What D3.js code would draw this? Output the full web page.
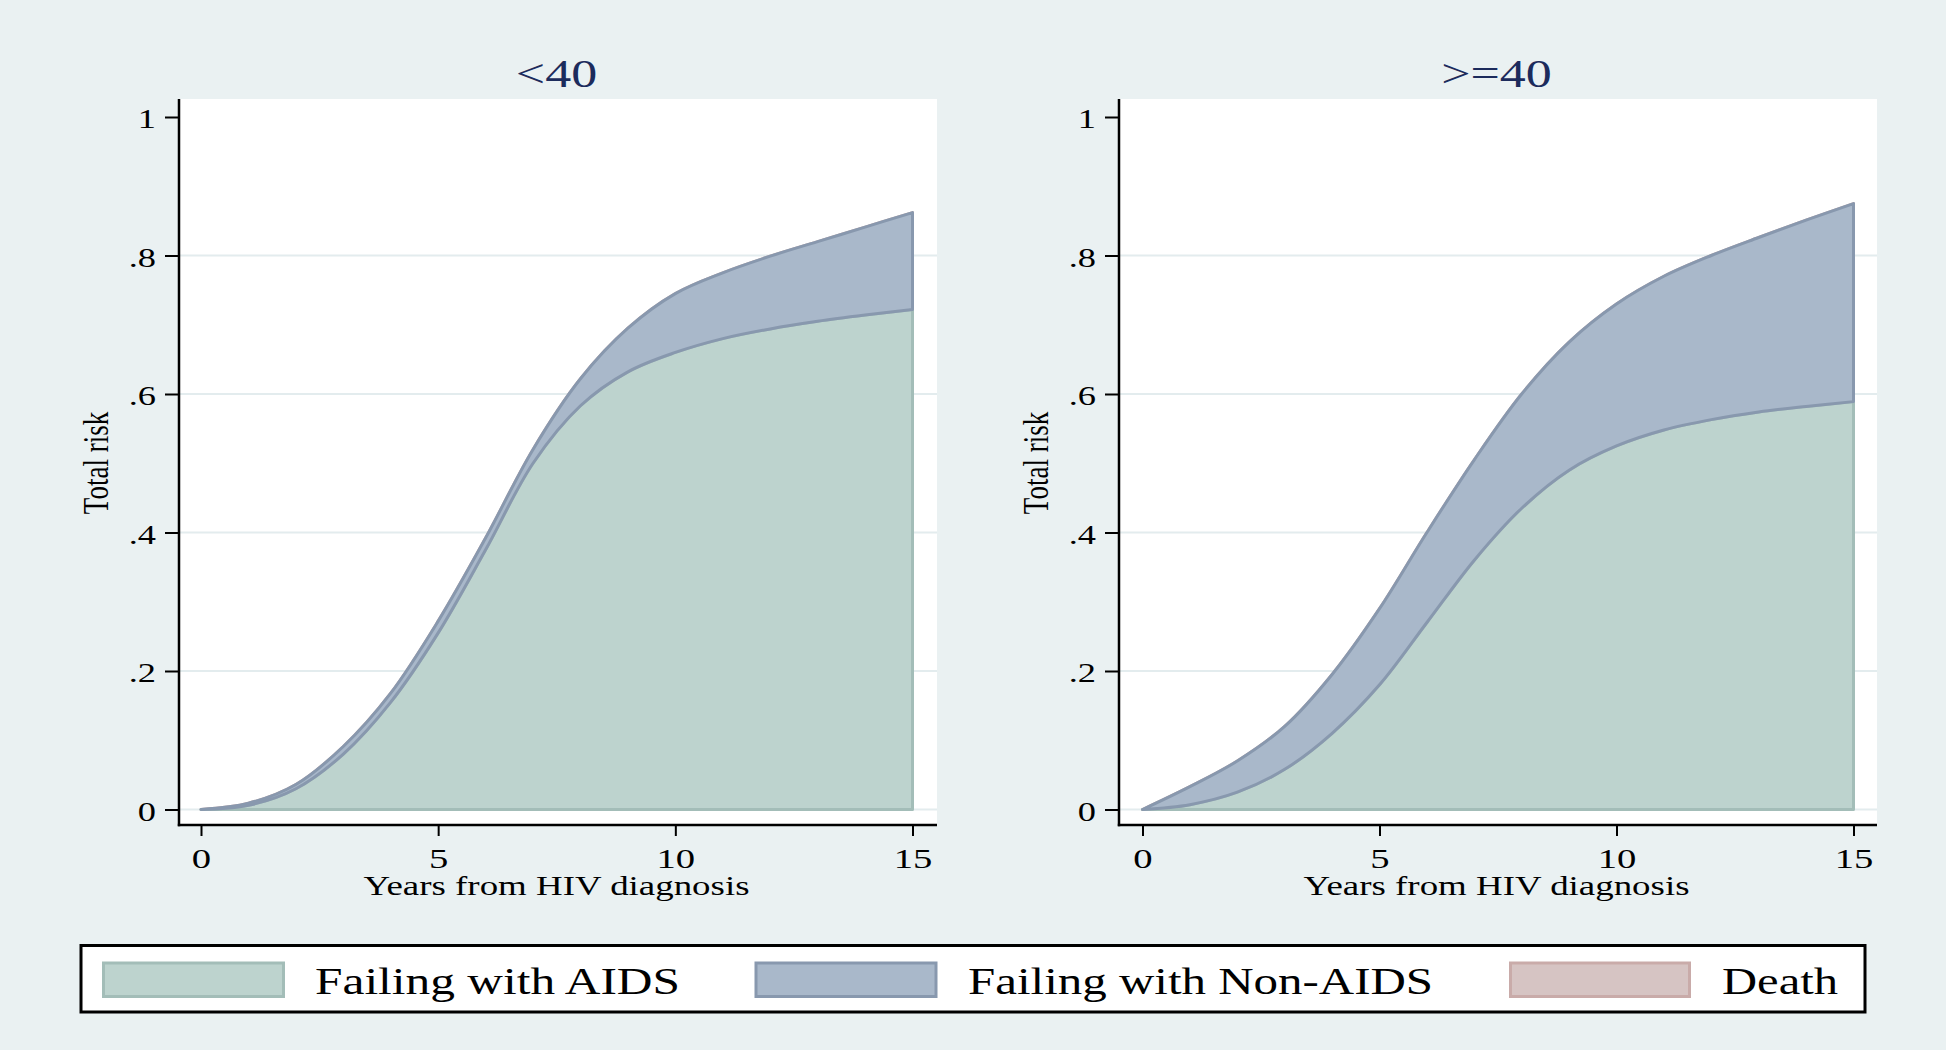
<!DOCTYPE html>
<html><head><meta charset="utf-8">
<script src="https://cdn.jsdelivr.net/npm/d3@7"></script>
<style>html,body{margin:0;padding:0;background:#eaf1f2;} svg{display:block;}</style>
</head><body><svg id="c" width="1946" height="1050"></svg>
<script>
// ---- data ----
const years = [0,1,2,3,4,5,6,7,8,9,10,11,12,13,14,15];
const panelTitles = ["<40", ">=40"];
// component risks (stacked): AIDS, Non-AIDS, Death
const aidsLt40    = [0,.006,.030,.080,.155,.255,.375,.500,.583,.632,.660,.680,.694,.705,.714,.722];
const nonAidsLt40 = [0,.003,.006,.011,.013,.017,.017,.020,.039,.063,.085,.095,.105,.115,.127,.140];
const deathLt40   = [0,0,0,0,0,0,0,0,0,0,0,0,0,0,0,0];
const aidsGe40    = [0,.007,.025,.058,.110,.180,.270,.360,.435,.490,.525,.548,.563,.574,.582,.589];
const nonAidsGe40 = [0,.026,.045,.062,.085,.110,.130,.145,.165,.185,.205,.222,.237,.252,.269,.286];
const deathGe40   = [0,0,0,0,0,0,0,0,0,0,0,0,0,0,0,0];
const seriesNames = ["Failing with AIDS","Failing with Non-AIDS","Death"];
const yTicks = [0,.2,.4,.6,.8,1];
const yTickLabels = ["0",".2",".4",".6",".8","1"];
const xTicks = [0,5,10,15];
const xTitle = "Years from HIV diagnosis";
const yTitle = "Total risk";

// ---- styles ----
const fills   = ["#bdd3ce","#a9b8ca","#d6c4c3"];
const strokes = ["#a3bdb8","#8898ae","#c9aba9"];
const SX = 1.3; // horizontal glyph stretch
const FONT = "Liberation Serif, Times New Roman, serif";

const svg = d3.select("#c");
svg.append("rect").attr("width",1946).attr("height",1050).attr("fill","#eaf1f2");

const layouts = [
  {left:179, right:937, x0:201, x15:912.5},
  {left:1119, right:1877, x0:1142.5, x15:1853.5}
];
const TOP = 99, BOTTOM = 825, Y0 = 809.5, Y1 = 117;

function drawPanel(i, title, aids, non, death){
  const L = layouts[i];
  const x = d3.scaleLinear().domain([0,15]).range([L.x0, L.x15]);
  const y = d3.scaleLinear().domain([0,1]).range([Y0, Y1]);
  const g = svg.append("g");
  g.append("rect").attr("x",L.left).attr("y",TOP).attr("width",L.right-L.left)
    .attr("height",BOTTOM-TOP).attr("fill","#fff");
  g.selectAll("line.grid").data(yTicks.filter(d=>d<1)).join("line").attr("class","grid")
    .attr("x1",L.left).attr("x2",L.right).attr("y1",d=>y(d)).attr("y2",d=>y(d))
    .attr("stroke","#e3ecee").attr("stroke-width",2);

  const rows = years.map((t,k)=>({t, aids:aids[k], non:non[k], death:death[k]}));
  const stack = d3.stack().keys(["aids","non","death"])(rows);
  const area = d3.area().x(d=>x(d.data.t)).y0(d=>y(d[0])).y1(d=>y(d[1]))
    .curve(d3.curveCatmullRom.alpha(0.5));
  [2,0,1].forEach(s=>{
    g.append("path").datum(stack[s]).attr("d",area)
      .attr("fill",fills[s]).attr("stroke",strokes[s]).attr("stroke-width",3)
      .attr("stroke-linejoin","round");
  });

  // y axis
  const ya = g.append("g").attr("transform",`translate(${L.left},0)`)
    .call(d3.axisLeft(y).tickValues(yTicks).tickFormat((d,k)=>yTickLabels[k]).tickSize(14).tickPadding(9));
  ya.select(".domain").remove();
  ya.selectAll(".tick line").attr("stroke","#000").attr("stroke-width",2);
  ya.selectAll(".tick text").attr("x",-23/SX).attr("dy","0.38em").attr("transform",`scale(${SX},1)`)
    .attr("font-family",FONT).attr("font-size",28).attr("fill","#000");
  g.append("line").attr("x1",L.left).attr("x2",L.left).attr("y1",TOP).attr("y2",BOTTOM+1.2)
    .attr("stroke","#000").attr("stroke-width",2.5);

  // x axis
  const xa = g.append("g").attr("transform",`translate(0,${BOTTOM})`)
    .call(d3.axisBottom(x).tickValues(xTicks).tickFormat(d3.format("d")).tickSize(11).tickPadding(12));
  xa.select(".domain").remove();
  xa.selectAll(".tick line").attr("stroke","#000").attr("stroke-width",2);
  xa.selectAll(".tick text").attr("transform",`scale(1.38,1)`)
    .attr("font-family",FONT).attr("font-size",28).attr("fill","#000");
  g.append("line").attr("x1",L.left-1.2).attr("x2",L.right).attr("y1",BOTTOM).attr("y2",BOTTOM)
    .attr("stroke","#000").attr("stroke-width",2.5);

  const cx = (L.left+L.right)/2 - 1.5;
  g.append("text").attr("x",cx).attr("y",895)
    .attr("text-anchor","middle").attr("font-family",FONT).attr("font-size",27)
    .attr("textLength",386).attr("lengthAdjust","spacingAndGlyphs").text(xTitle);
  g.append("text").attr("transform",`translate(${L.left-71},463) scale(${SX},1) rotate(-90)`)
    .attr("text-anchor","middle").attr("font-family",FONT).attr("font-size",27).text(yTitle);
  g.append("text").attr("transform",`translate(${cx},86.5) scale(${SX},1)`)
    .attr("text-anchor","middle").attr("font-family",FONT).attr("font-size",40)
    .attr("fill","#1c2b5c").text(title);
}

drawPanel(0, panelTitles[0], aidsLt40, nonAidsLt40, deathLt40);
drawPanel(1, panelTitles[1], aidsGe40, nonAidsGe40, deathGe40);

// legend
const leg = svg.append("g");
leg.append("rect").attr("x",81).attr("y",945.5).attr("width",1784).attr("height",66.5)
  .attr("fill","#fff").attr("stroke","#000").attr("stroke-width",3);
const legItems = [
  {sx:103.5, sw:180, tx:315, tl:365},
  {sx:756, sw:180, tx:968, tl:465},
  {sx:1510.5, sw:179, tx:1722, tl:116}
];
legItems.forEach((it,k)=>{
  leg.append("rect").attr("x",it.sx).attr("y",963).attr("width",it.sw).attr("height",33.5)
    .attr("fill",fills[k]).attr("stroke",strokes[k]).attr("stroke-width",3);
  leg.append("text").attr("x",it.tx).attr("y",994).attr("font-family",FONT).attr("font-size",37)
    .attr("textLength",it.tl).attr("lengthAdjust","spacingAndGlyphs").text(seriesNames[k]);
});
</script></body></html>
